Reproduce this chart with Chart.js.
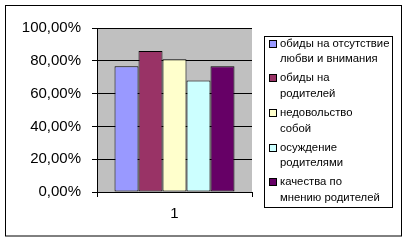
<!DOCTYPE html>
<html>
<head>
<meta charset="utf-8">
<script src="https://cdn.jsdelivr.net/npm/chart.js@4/dist/chart.umd.min.js"></script>
<style>
    html, body { margin: 0; padding: 0; background: #fff; }
    #wrap { width: 407px; height: 242px; }
</style>
</head>
<body>
<div id="wrap"><canvas id="chart" width="407" height="242"></canvas></div>
<script>
// 資料
const categories = ['1'];
const seriesNames = [
    'обиды на отсутствие\nлюбви и внимания',
    'обиды на\nродителей',
    'недовольство\nсобой',
    'осуждение\nродителями',
    'качества по\nмнению родителей'
];
const seriesValues = [76.7, 86.0, 81.0, 68.0, 76.7];
const yTicks = [0, 20, 40, 60, 80, 100];

const seriesColors = ['#9999FF', '#993366', '#FFFFCC', '#CCFFFF', '#660066'];
const FONT = "'Liberation Sans', Arial, sans-serif";

// 外框與繪圖區背景
const framePlugin = {
    id: 'frame',
    beforeDraw(chart) {
        const { ctx, chartArea: a } = chart;
        ctx.save();
        ctx.fillStyle = '#fff';
        ctx.fillRect(0, 0, chart.width, chart.height);
        ctx.strokeStyle = '#000';
        ctx.lineWidth = 1;
        ctx.strokeRect(5.5, 5.5, 396, 230.5);
        ctx.fillStyle = '#C0C0C0';
        ctx.fillRect(a.left, a.top, a.right - a.left, a.bottom - a.top);
        ctx.restore();
    }
};

// 圖例（多行文字）
const boxLegendPlugin = {
    id: 'boxLegend',
    afterDraw(chart) {
        const ctx = chart.ctx;
        ctx.save();
        ctx.strokeStyle = '#000';
        ctx.lineWidth = 1;
        ctx.strokeRect(264.5, 36.5, 128, 171);
        ctx.font = '11.3px ' + FONT;
        ctx.textBaseline = 'middle';
        ctx.textAlign = 'left';
        chart.data.datasets.forEach((ds, i) => {
            const y = 43.5 + i * 34.7;
            ctx.fillStyle = ds.backgroundColor;
            ctx.fillRect(269.5, Math.round(y) - 3.5, 7, 7);
            ctx.strokeRect(269.5, Math.round(y) - 3.5, 7, 7);
            ctx.fillStyle = '#000';
            ds.label.split('\n').forEach((line, j) => {
                ctx.fillText(line, 280, y + j * 15.5);
            });
        });
        ctx.restore();
    }
};

new Chart(document.getElementById('chart'), {
    type: 'bar',
    data: {
        labels: categories,
        datasets: seriesNames.map((name, i) => ({
            label: name,
            data: [seriesValues[i]],
            backgroundColor: seriesColors[i],
            borderColor: '#000',
            borderWidth: 1,
            borderSkipped: false,
            barPercentage: 1,
            categoryPercentage: 0.774
        }))
    },
    options: {
        responsive: false,
        animation: false,
        layout: { padding: { left: 0, top: 28, right: 155, bottom: 0 } },
        scales: {
            x: {
                offset: true,
                grid: { offset: true, drawOnChartArea: false, color: '#000', tickLength: 5 },
                border: { color: '#000' },
                ticks: { color: '#000', padding: 8, font: { family: FONT, size: 15 } },
                afterFit(s) { s.height = 50; }
            },
            y: {
                min: 0,
                max: 100,
                afterBuildTicks(s) { s.ticks = yTicks.map(v => ({ value: v })); },
                grid: { color: '#000', tickLength: 5 },
                border: { color: '#000' },
                ticks: {
                    color: '#000',
                    padding: 11,
                    font: { family: FONT, size: 15 },
                    callback: v => v.toFixed(2).replace('.', ',') + '%'
                },
                afterFit(s) { s.width = 97; }
            }
        },
        plugins: {
            legend: { display: false },
            tooltip: { enabled: false }
        }
    },
    plugins: [framePlugin, boxLegendPlugin]
});
</script>
</body>
</html>
